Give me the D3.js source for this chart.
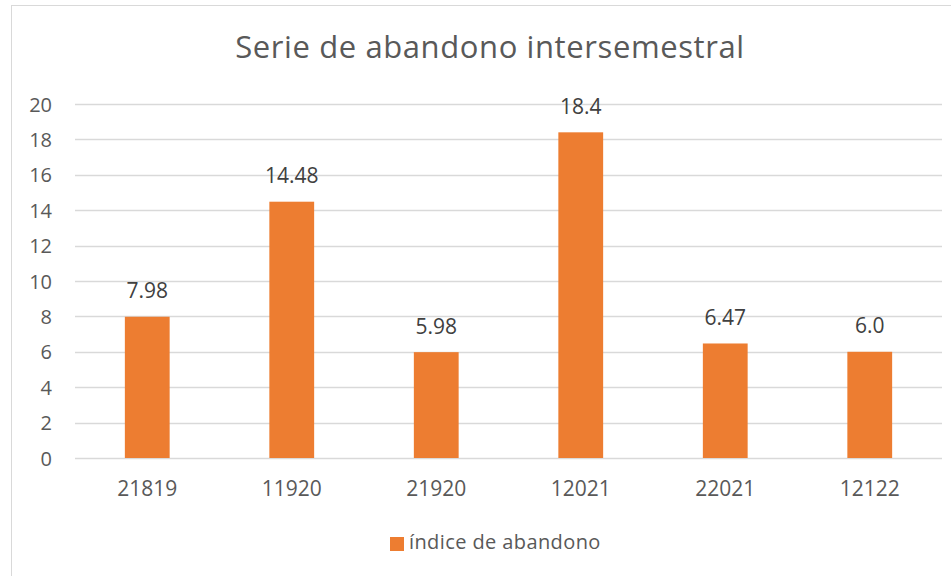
<!DOCTYPE html>
<html>
<head>
<meta charset="utf-8">
<script src="https://cdn.jsdelivr.net/npm/d3@7"></script>
<style>
  body { margin: 0; background: #fff; }
  text { font-family: "Open Sans", "DejaVu Sans", sans-serif; }
</style>
</head>
<body>
<script>
var categories = ["21819", "11920", "21920", "12021", "22021", "12122"];
var values = [7.98, 14.48, 5.98, 18.4, 6.47, 6.0];
var valueLabels = ["7.98", "14.48", "5.98", "18.4", "6.47", "6.0"];
var yTicks = [0, 2, 4, 6, 8, 10, 12, 14, 16, 18, 20];
var seriesName = "índice de abandono";
var chartTitle = "Serie de abandono intersemestral";

var W = 951, H = 576;
var plot = { left: 75, right: 942, top: 104, bottom: 458 };
var barColor = "#ED7D31";
var gridColor = "#D9D9D9";
var textColor = "#595959";

var svg = d3.select("body").append("svg")
    .attr("width", W)
    .attr("height", H);

// chart frame
svg.append("rect")
    .attr("x", 11.5).attr("y", 5.5)
    .attr("width", 980).attr("height", 600)
    .attr("fill", "#fff")
    .attr("stroke", gridColor)
    .attr("stroke-width", 1);

var x = d3.scaleBand()
    .domain(categories)
    .range([plot.left, plot.right])
    .padding(0);

var y = d3.scaleLinear()
    .domain([0, 20])
    .range([plot.bottom, plot.top]);

// gridlines
svg.append("g")
    .selectAll("line")
    .data(yTicks)
    .join("line")
    .attr("x1", plot.left).attr("x2", plot.right)
    .attr("y1", d => Math.round(y(d)) + 0.5)
    .attr("y2", d => Math.round(y(d)) + 0.5)
    .attr("stroke", gridColor)
    .attr("stroke-width", 1.3);

// y axis labels
var yAxis = d3.axisLeft(y).tickValues(yTicks).tickSize(0).tickPadding(0);
var gy = svg.append("g")
    .attr("transform", "translate(52,0)")
    .call(yAxis);
gy.select(".domain").remove();
gy.selectAll("text")
    .attr("fill", textColor)
    .style("font-size", "20px")
    .attr("dy", "0.35em");

// x axis labels
var xAxis = d3.axisBottom(x).tickSize(0).tickPadding(0);
var gx = svg.append("g")
    .attr("transform", "translate(0," + 489 + ")")
    .call(xAxis);
gx.select(".domain").remove();
gx.selectAll("text")
    .attr("fill", textColor)
    .style("font-size", "21px")
    .attr("dy", "0.35em")
    .attr("y", 0);

// bars
var barW = x.bandwidth() * 0.31;
svg.append("g")
    .selectAll("rect")
    .data(values)
    .join("rect")
    .attr("x", (d, i) => x(categories[i]) + x.bandwidth() / 2 - barW / 2)
    .attr("y", d => y(d))
    .attr("width", barW)
    .attr("height", d => y(0) - y(d))
    .attr("fill", barColor);

// data labels
svg.append("g")
    .selectAll("text")
    .data(values)
    .join("text")
    .attr("x", (d, i) => x(categories[i]) + x.bandwidth() / 2)
    .attr("y", d => y(d) - 26)
    .attr("dy", "0.35em")
    .attr("text-anchor", "middle")
    .attr("fill", "#404040")
    .style("font-size", "21px")
    .text((d, i) => valueLabels[i]);

// title
svg.append("text")
    .attr("x", 490)
    .attr("y", 47.5)
    .attr("dy", "0.35em")
    .attr("text-anchor", "middle")
    .attr("fill", textColor)
    .style("font-size", "31px")
    .style("letter-spacing", "0.6px")
    .text(chartTitle);

// legend
var lg = svg.append("g").attr("transform", "translate(390,537)");
lg.append("rect")
    .attr("width", 14).attr("height", 14)
    .attr("fill", barColor);
lg.append("text")
    .attr("x", 19).attr("y", 5)
    .attr("dy", "0.35em")
    .attr("fill", textColor)
    .style("font-size", "20px")
    .style("letter-spacing", "0.4px")
    .text(seriesName);
</script>
</body>
</html>
